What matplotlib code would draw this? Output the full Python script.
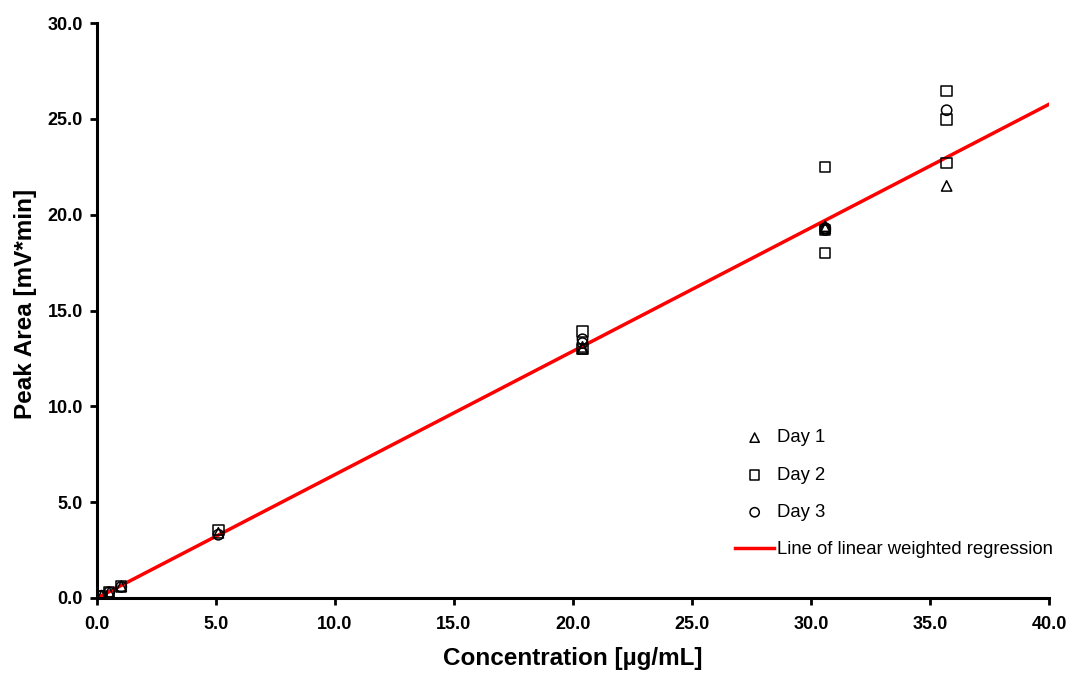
import numpy as np
import matplotlib
matplotlib.use("Agg")
import matplotlib.pyplot as plt

plt.rcParams['font.family'] = ['Liberation Sans', 'DejaVu Sans']

# data
day1_x = [0.2, 0.51, 1.02, 5.1, 20.4, 20.4, 30.6, 30.6, 35.7]
day1_y = [0.13, 0.31, 0.62, 3.4, 13.1, 13.0, 19.4, 19.3, 21.5]
day2_x = [0.2, 0.51, 1.02, 5.1, 20.4, 20.4, 30.6, 30.6, 30.6, 35.7, 35.7, 35.7]
day2_y = [0.12, 0.33, 0.6, 3.55, 13.9, 13.0, 22.5, 18.0, 19.2, 26.45, 24.97, 22.68]
day3_x = [0.2, 0.51, 1.02, 5.1, 20.4, 20.4, 30.6, 30.6, 35.7]
day3_y = [0.11, 0.3, 0.58, 3.3, 13.5, 13.3, 19.3, 19.2, 25.45]
fit_x = [0.0, 40.0]
slope, intercept = 0.644, 0.0

fig = plt.figure(figsize=(10.67, 6.77), dpi=100)
ax = fig.add_axes([0.0909, 0.1167, 0.8922, 0.8493])

fit_y = [slope * v + intercept for v in fit_x]
ax.plot(fit_x, fit_y, color='#ff0000', lw=2.5, zorder=2,
        label='Line of linear weighted regression')

mk = dict(s=55, facecolors='none', edgecolors='black', linewidths=1.1, zorder=3)
ax.scatter(day1_x, day1_y, marker='^', label='Day 1', **mk)
ax.scatter(day2_x, day2_y, marker='s', label='Day 2', **mk)
ax.scatter(day3_x, day3_y, marker='o', label='Day 3', **mk)

ax.set_xlim(0, 40)
ax.set_ylim(0, 30)
ax.set_xticks(np.arange(0, 40.1, 5))
ax.set_yticks(np.arange(0, 30.1, 5))
ax.set_xticklabels(['%.1f' % v for v in np.arange(0, 40.1, 5)])
ax.set_yticklabels(['%.1f' % v for v in np.arange(0, 30.1, 5)])
for lab in ax.get_xticklabels() + ax.get_yticklabels():
    lab.set_fontweight('bold')
    lab.set_fontsize(13)
ax.tick_params(direction='out', length=5, width=2)
ax.tick_params(axis='x', pad=8)
ax.tick_params(axis='y', pad=5)

for s in ['top', 'right']:
    ax.spines[s].set_visible(False)
for s in ['left', 'bottom']:
    ax.spines[s].set_linewidth(2.2)

ax.set_xlabel('Concentration [µg/mL]', fontsize=17.5, fontweight='bold', labelpad=10)
ax.set_ylabel('Peak Area [mV*min]', fontsize=17.5, fontweight='bold')
ax.yaxis.set_label_coords(-0.063, 0.512)

handles, labels = ax.get_legend_handles_labels()
order = [1, 2, 3, 0]
ax.legend([handles[i] for i in order], [labels[i] for i in order],
          loc='upper left', bbox_to_anchor=(0.653, 0.322), frameon=False,
          fontsize=13.3, labelspacing=1.1, handlelength=2.1, handletextpad=0.15,
          scatterpoints=1, markerscale=0.9)

fig.savefig('out.png', dpi=100)
